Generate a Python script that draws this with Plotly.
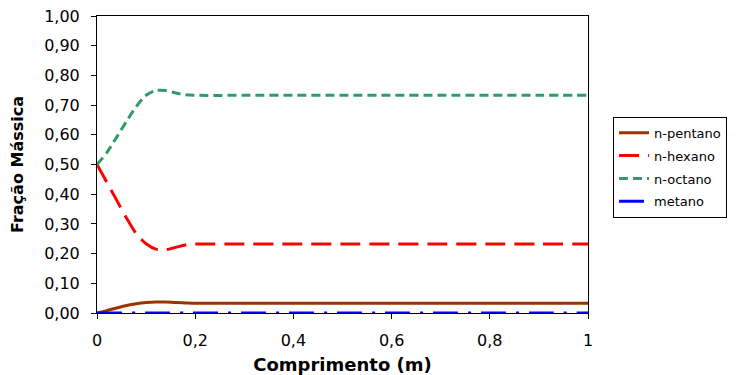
import plotly.graph_objects as go

# Axial position along the reactor (m)
comprimento = [0.0, 0.02, 0.04, 0.06, 0.08, 0.10, 0.12, 0.14, 0.16, 0.18, 0.20,
               0.30, 0.40, 0.50, 0.60, 0.70, 0.80, 0.90, 1.00]

# Mass fraction of each component
n_pentano = [0.000, 0.008, 0.017, 0.025, 0.031, 0.035, 0.037, 0.037, 0.035, 0.034, 0.033,
             0.033, 0.033, 0.033, 0.033, 0.033, 0.033, 0.033, 0.033]
n_hexano = [0.500, 0.440, 0.380, 0.320, 0.267, 0.233, 0.215, 0.213, 0.221, 0.229, 0.232,
            0.232, 0.232, 0.232, 0.232, 0.232, 0.232, 0.232, 0.232]
n_octano = [0.500, 0.540, 0.592, 0.645, 0.695, 0.733, 0.749, 0.749, 0.741, 0.735, 0.733,
            0.733, 0.733, 0.733, 0.733, 0.733, 0.733, 0.733, 0.733]
metano = [0.0] * len(comprimento)

series = [
    ("n-pentano", n_pentano, "#993300", "solid"),
    ("n-hexano", n_hexano, "#FF0000", "20px,9px"),
    ("n-octano", n_octano, "#339966", "9px,5px"),
    ("metano", metano, "#0000FF", "25px,10px,3px,10px"),
]

FONT = "DejaVu Sans"

fig = go.Figure()
for i, (name, ys, color, dash) in enumerate(series):
    fig.add_trace(go.Scatter(
        x=comprimento, y=ys, name=name, mode="lines",
        line=dict(color=color, width=3, dash=dash, shape="spline", smoothing=0.8),
        legendgroup=f"g{i}", cliponaxis=False,
    ))

axis_common = dict(
    showline=True, linecolor="black", linewidth=1, mirror=True,
    ticks="outside", ticklen=5, tickcolor="black", tickwidth=1,
    showgrid=False, zeroline=False, automargin=False,
    tickfont=dict(family=FONT, size=16, color="black"),
    ticklabelstandoff=8,
)

fig.update_layout(
    width=739, height=375,
    margin=dict(l=97, r=151, t=16, b=62),
    paper_bgcolor="white", plot_bgcolor="white",
    separators=", ",
    font=dict(family=FONT, color="black"),
    xaxis=dict(range=[0, 1], tickvals=[0, 0.2, 0.4, 0.6, 0.8, 1.0],
               title=dict(text="<b>Comprimento (m)</b>",
                          font=dict(family=FONT, size=18), standoff=14),
               **axis_common),
    yaxis=dict(range=[0, 1], dtick=0.1, tickformat=".2f",
               title=dict(text="<b>Fração Mássica</b>",
                          font=dict(family=FONT, size=16), standoff=16),
               **axis_common),
    legend=dict(
        x=1.051, y=0.661, xanchor="left", yanchor="top",
        bordercolor="black", borderwidth=1, bgcolor="white",
        font=dict(family=FONT, size=13, color="black"),
        tracegroupgap=3, itemwidth=30,
    ),
)

fig.write_html("out.html")
